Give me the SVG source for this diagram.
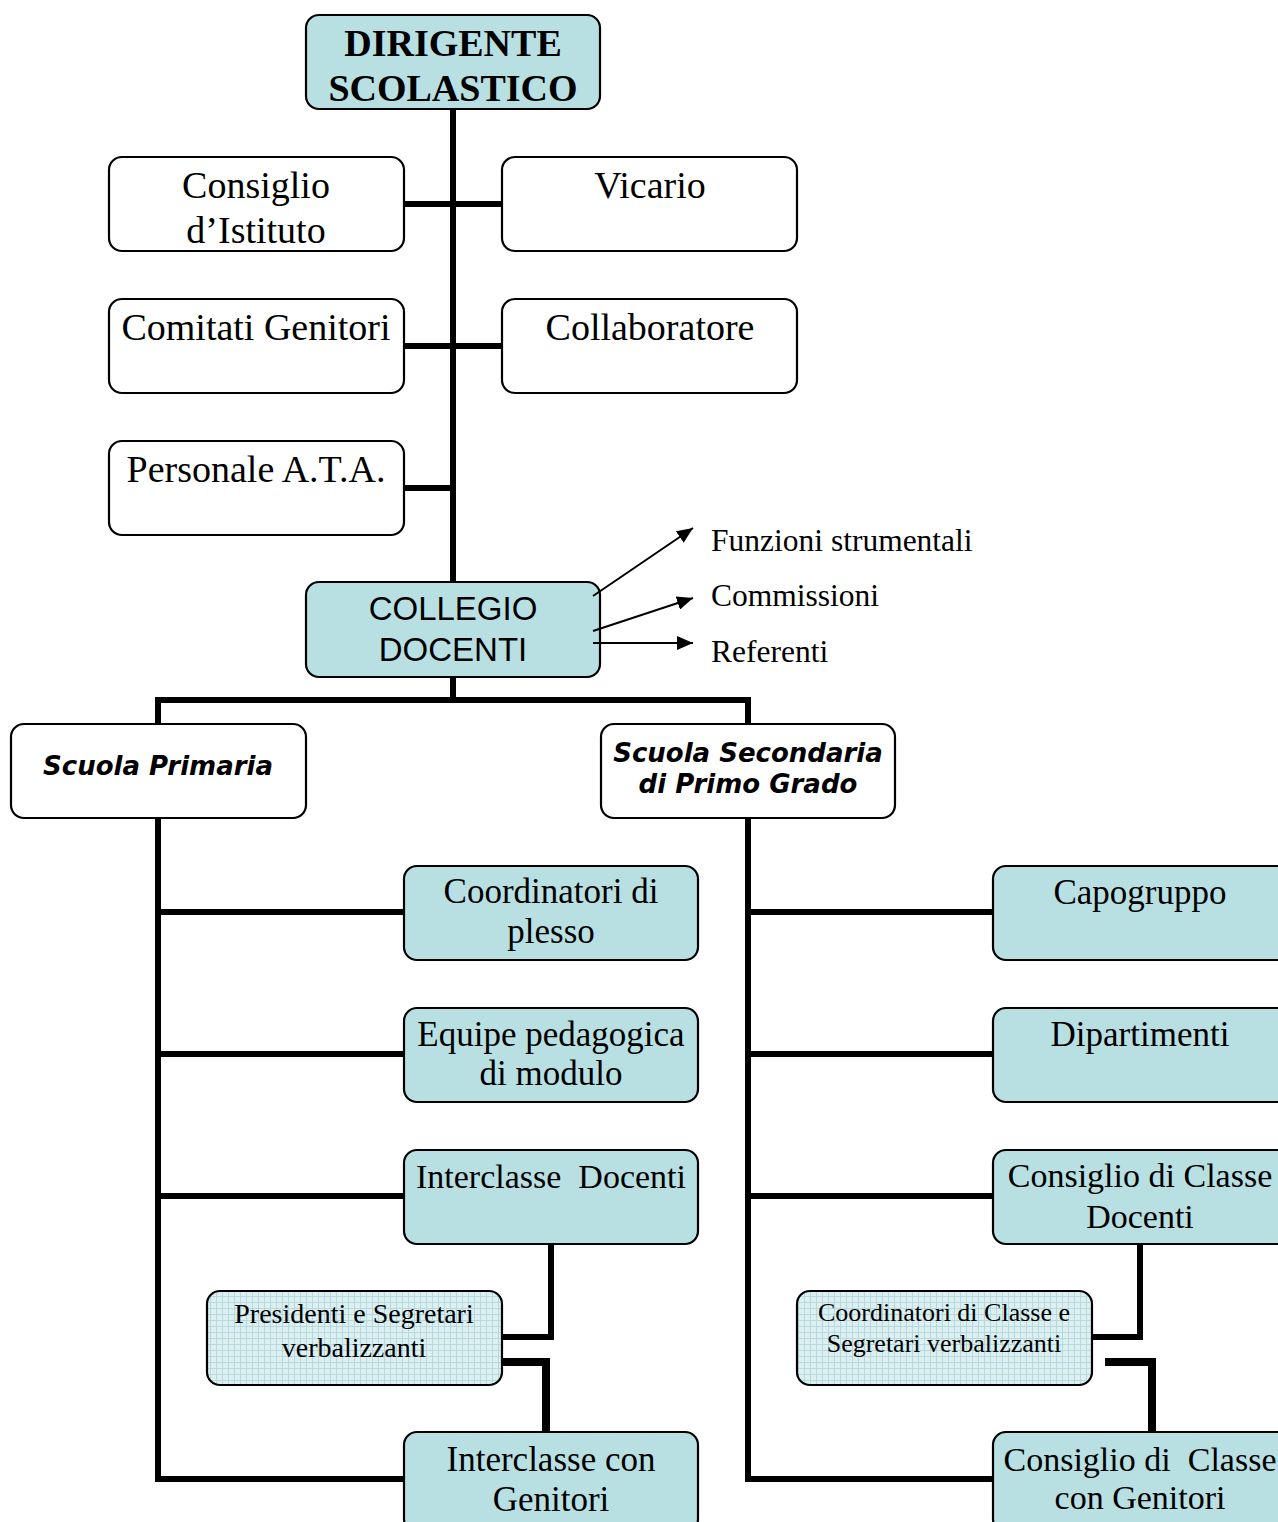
<svg xmlns="http://www.w3.org/2000/svg" width="1278" height="1522" viewBox="0 0 1278 1522">
<style>
.box{stroke:#000;stroke-width:2.2}
.blue{fill:#b8e0e3}
.white{fill:#fff}
.grid{fill:url(#grid)}
.ln{stroke:#000;stroke-width:6;fill:none}
.thick{stroke:#000;stroke-width:8;fill:none}
.arr{stroke:#000;stroke-width:2;fill:none;marker-end:url(#ah)}
text{font-family:"Liberation Serif","Times New Roman",serif;fill:#000;text-anchor:middle;white-space:pre}
.t38{font-size:38px}
.t35{font-size:35px}
.t34{font-size:34px}
.b38{font-size:38px;font-weight:bold}
.s33{font-family:"Liberation Sans",Arial,sans-serif;font-size:33px}
.bi{font-family:"DejaVu Sans",Verdana,sans-serif;font-size:26px;font-weight:bold;font-style:italic}
.lab{font-size:31.5px;text-anchor:start}
.t28{font-size:28px}
.t26{font-size:26px}
</style>
<defs>
<marker id="ah" markerWidth="16" markerHeight="14" refX="16" refY="7" orient="auto" markerUnits="userSpaceOnUse" viewBox="0 0 16 14">
<path d="M0,0 L16,7 L0,14 z" fill="#000"/>
</marker>
<pattern id="grid" width="6" height="6" patternUnits="userSpaceOnUse">
<rect width="6" height="6" fill="#dcf0f2"/>
<path d="M0,0.5 H6 M0.5,0 V6" stroke="#b7d8dc" stroke-width="1"/>
</pattern>
</defs>

<g id="connectors">
<line class="ln" x1="453" y1="109" x2="453" y2="582"/>
<line class="ln" x1="404" y1="204" x2="502" y2="204"/>
<line class="ln" x1="404" y1="346" x2="502" y2="346"/>
<line class="ln" x1="404" y1="488" x2="453" y2="488"/>
<line class="ln" x1="453" y1="677" x2="453" y2="700"/>
<polyline class="ln" points="158,724 158,700 748,700 748,724"/>
<line class="ln" x1="158" y1="818" x2="158" y2="1479"/>
<line class="ln" x1="155" y1="1479" x2="404" y2="1479"/>
<line class="ln" x1="158" y1="912" x2="404" y2="912"/>
<line class="ln" x1="158" y1="1054" x2="404" y2="1054"/>
<line class="ln" x1="158" y1="1196" x2="404" y2="1196"/>
<line class="ln" x1="748" y1="818" x2="748" y2="1479"/>
<line class="ln" x1="745" y1="1479" x2="993" y2="1479"/>
<line class="ln" x1="748" y1="912" x2="993" y2="912"/>
<line class="ln" x1="748" y1="1054" x2="993" y2="1054"/>
<line class="ln" x1="748" y1="1196" x2="993" y2="1196"/>
<polyline class="ln" points="551,1244 551,1337 502,1337"/>
<polyline class="thick" points="500,1362 546,1362 546,1432"/>
<polyline class="ln" points="1140,1244 1140,1337 1092,1337"/>
<polyline class="thick" points="1105,1362 1152,1362 1152,1432"/>
</g>

<g id="dirigente"><rect class="box blue" x="306" y="15" width="294" height="94" rx="13"/>
<text class="b38" x="453" y="56">DIRIGENTE</text><text class="b38" x="453" y="101">SCOLASTICO</text></g>

<g id="consiglio-istituto"><rect class="box white" x="109" y="157" width="295" height="94" rx="13"/>
<text class="t38" x="256" y="198">Consiglio</text><text class="t38" x="256" y="243">d’Istituto</text></g>

<g id="vicario"><rect class="box white" x="502" y="157" width="295" height="94" rx="13"/>
<text class="t38" x="650" y="198">Vicario</text></g>

<g id="comitati"><rect class="box white" x="109" y="299" width="295" height="94" rx="13"/>
<text class="t38" x="256" y="340">Comitati Genitori</text></g>

<g id="collaboratore"><rect class="box white" x="502" y="299" width="295" height="94" rx="13"/>
<text class="t38" x="650" y="340">Collaboratore</text></g>

<g id="ata"><rect class="box white" x="109" y="441" width="295" height="94" rx="13"/>
<text class="t38" x="256" y="482">Personale A.T.A.</text></g>

<g id="collegio"><rect class="box blue" x="306" y="582" width="294" height="95" rx="13"/>
<text class="s33" x="453" y="620">COLLEGIO</text><text class="s33" x="453" y="661">DOCENTI</text></g>

<g id="arrows">
<line class="arr" x1="593" y1="596" x2="693" y2="528"/>
<line class="arr" x1="593" y1="631" x2="693" y2="598"/>
<line class="arr" x1="593" y1="643" x2="693" y2="643"/>
</g>

<g id="labels">
<text class="lab" x="711" y="551">Funzioni strumentali</text>
<text class="lab" x="711" y="606">Commissioni</text>
<text class="lab" x="711" y="662">Referenti</text>
</g>

<g id="primaria"><rect class="box white" x="11" y="724" width="295" height="94" rx="13"/>
<text class="bi" x="158" y="775">Scuola Primaria</text></g>

<g id="secondaria"><rect class="box white" x="601" y="724" width="294" height="94" rx="13"/>
<text class="bi" x="748" y="762">Scuola Secondaria</text><text class="bi" x="748" y="793">di Primo Grado</text></g>

<g id="coord-plesso"><rect class="box blue" x="404" y="866" width="294" height="94" rx="13"/>
<text class="t35" x="551" y="903">Coordinatori di</text><text class="t35" x="551" y="943">plesso</text></g>

<g id="equipe"><rect class="box blue" x="404" y="1008" width="294" height="94" rx="13"/>
<text class="t35" x="551" y="1046">Equipe pedagogica</text><text class="t35" x="551" y="1085">di modulo</text></g>

<g id="interclasse-docenti"><rect class="box blue" x="404" y="1150" width="294" height="94" rx="13"/>
<text class="t34" x="551" y="1188">Interclasse  Docenti</text></g>

<g id="presidenti"><rect class="box grid" x="207" y="1291" width="295" height="94" rx="13"/>
<text class="t28" x="354" y="1323">Presidenti e Segretari</text><text class="t28" x="354" y="1357">verbalizzanti</text></g>

<g id="interclasse-genitori"><rect class="box blue" x="404" y="1432" width="294" height="100" rx="13"/>
<text class="t35" x="551" y="1471">Interclasse con</text><text class="t35" x="551" y="1511">Genitori</text></g>

<g id="capogruppo"><rect class="box blue" x="993" y="866" width="300" height="94" rx="13"/>
<text class="t35" x="1140" y="904">Capogruppo</text></g>

<g id="dipartimenti"><rect class="box blue" x="993" y="1008" width="300" height="94" rx="13"/>
<text class="t35" x="1140" y="1046">Dipartimenti</text></g>

<g id="consiglio-classe-docenti"><rect class="box blue" x="993" y="1150" width="300" height="94" rx="13"/>
<text class="t34" x="1140" y="1187">Consiglio di Classe</text><text class="t34" x="1140" y="1228">Docenti</text></g>

<g id="coord-classe"><rect class="box grid" x="797" y="1291" width="295" height="94" rx="13"/>
<text class="t26" x="944" y="1321">Coordinatori di Classe e</text><text class="t26" x="944" y="1352">Segretari verbalizzanti</text></g>

<g id="consiglio-classe-genitori"><rect class="box blue" x="993" y="1432" width="300" height="100" rx="13"/>
<text class="t34" x="1140" y="1471">Consiglio di  Classe</text><text class="t34" x="1140" y="1509">con Genitori</text></g>
</svg>
